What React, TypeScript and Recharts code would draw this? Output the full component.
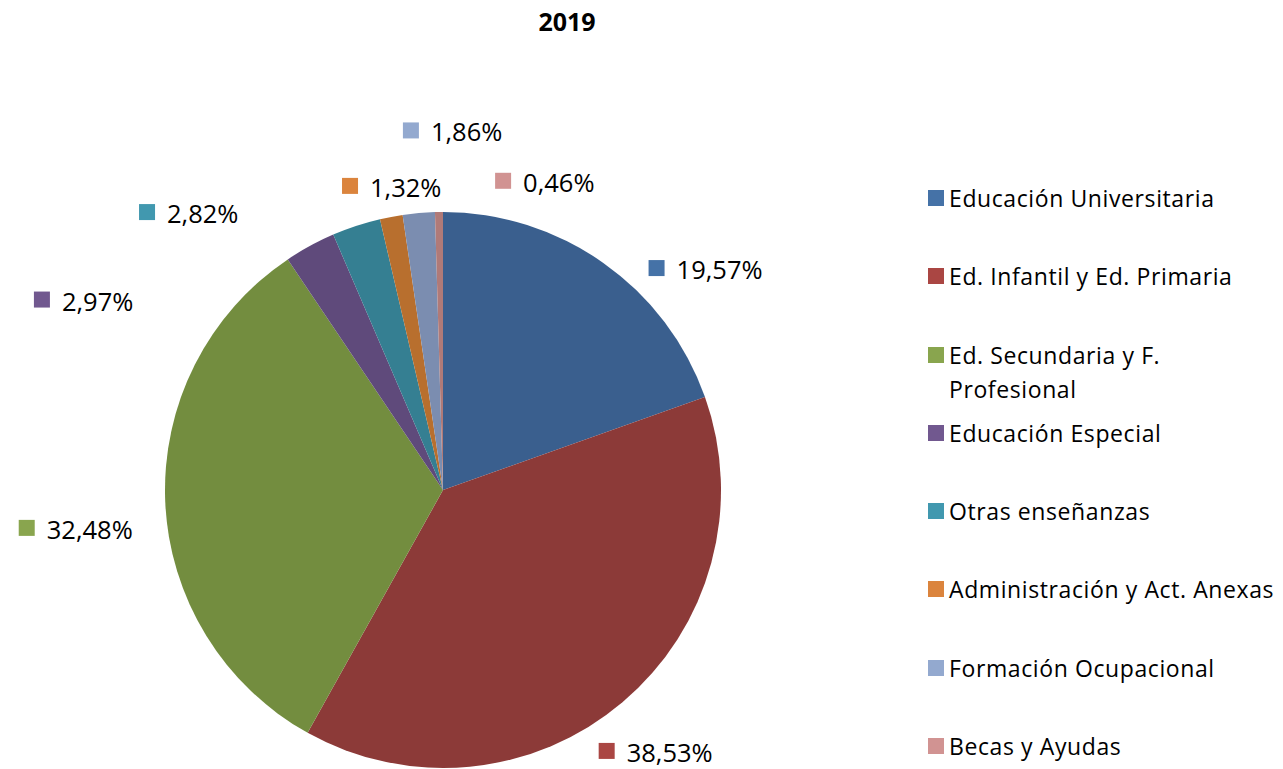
import { PieChart, Pie, Cell, Legend } from 'recharts';

// Categories and shares (%) for 2019
const categories = [
  'Educación Universitaria',
  'Ed. Infantil y Ed. Primaria',
  'Ed. Secundaria y F. Profesional',
  'Educación Especial',
  'Otras enseñanzas',
  'Administración y Act. Anexas',
  'Formación Ocupacional',
  'Becas y Ayudas',
];
const shares = [19.57, 38.53, 32.48, 2.97, 2.82, 1.32, 1.86, 0.46];
const shareLabels = ['19,57%', '38,53%', '32,48%', '2,97%', '2,82%', '1,32%', '1,86%', '0,46%'];

// slice fill (darker) and legend/label key (lighter)
const SLICE_COLORS = ['#3A5F8E', '#8C3A38', '#738D3F', '#5F4A7B', '#357F92', '#B86F2E', '#7B8DB0', '#B07A78'];
const KEY_COLORS = ['#4572A7', '#AA4643', '#89A54E', '#71588F', '#4198AF', '#DB843D', '#93A9CF', '#D19392'];

// label placement: angle clockwise from 12 o'clock, distance from centre
const LABEL_PLACE = [
  [43.9, 308], [147.9, 308], [264.8, 418], [295.4, 444],
  [313.2, 406], [343, 318], [354.9, 361], [11, 315],
];

const FONT = '"Open Sans", "Noto Sans", sans-serif';

const data = categories.map((name, i) => ({ name, value: shares[i], label: shareLabels[i] }));

const renderLabel = (props: any) => {
  const { cx, cy, index } = props;
  const [deg, dist] = LABEL_PLACE[index];
  const rad = (deg * Math.PI) / 180;
  const x = cx + dist * Math.sin(rad);
  const y = cy - dist * Math.cos(rad);
  return (
    <g>
      <rect x={x - 8} y={y - 8} width={16} height={16} fill={KEY_COLORS[index]} />
      <text x={x + 20} y={y + 1} dominantBaseline="central" fontFamily={FONT} fontSize={25.5} fill="#000">
        {shareLabels[index]}
      </text>
    </g>
  );
};

const renderLegend = () => (
  <div style={{ fontFamily: FONT, fontSize: 23, letterSpacing: 0.6, color: '#000' }}>
    {categories.map((c, i) => (
      <div key={c} style={{ height: 78.3, display: 'flex', alignItems: 'flex-start' }}>
        <div style={{ width: 16, height: 16, marginTop: 9, background: KEY_COLORS[i], flexShrink: 0 }} />
        <div style={{ marginLeft: 5, width: 334, lineHeight: '34px' }}>{c}</div>
      </div>
    ))}
  </div>
);

export default function App() {
  return (
    <div style={{ position: 'absolute', left: 0, top: 0, width: 1283, height: 769, background: '#fff' }}>
      <div
        style={{
          position: 'absolute', left: 0, width: 1134, top: 4, textAlign: 'center',
          fontFamily: FONT, fontWeight: 700, fontSize: 25, color: '#000',
        }}
      >
        2019
      </div>
      <PieChart width={1283} height={769} style={{ position: 'absolute', left: 0, top: 0 }}>
        <Pie
          data={data}
          dataKey="value"
          nameKey="name"
          cx={438}
          cy={485}
          outerRadius={278}
          startAngle={90}
          endAngle={-270}
          stroke="none"
          label={renderLabel}
          labelLine={false}
          isAnimationActive={false}
        >
          {data.map((d, i) => (
            <Cell key={d.name} fill={SLICE_COLORS[i]} />
          ))}
        </Pie>
        <Legend
          layout="vertical"
          content={renderLegend}
          wrapperStyle={{ position: 'absolute', left: 928, top: 181, width: 355 }}
        />
      </PieChart>
    </div>
  );
}
